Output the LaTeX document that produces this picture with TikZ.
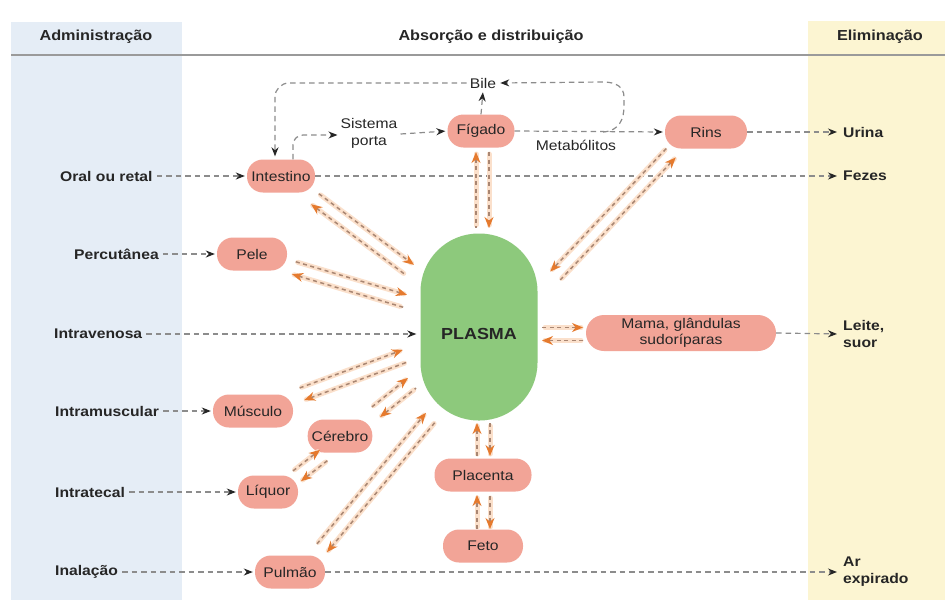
\documentclass[tikz,border=0pt]{standalone}
\usepackage{fontspec}
\setmainfont{Liberation Sans}[FakeStretch=1.12]
\usetikzlibrary{arrows.meta,calc}
\definecolor{bluepanel}{HTML}{E5EDF6}
\definecolor{yellowpanel}{HTML}{FCF5D2}
\definecolor{organpink}{HTML}{F2A497}
\definecolor{plasmagreen}{HTML}{8DC97C}
\definecolor{txt}{HTML}{262626}
\definecolor{dashgray}{HTML}{8C8C8C}
\definecolor{halocol}{HTML}{FBE0CB}
\definecolor{odash}{HTML}{A98672}
\definecolor{otipcol}{HTML}{E57A2E}
\definecolor{rulegray}{HTML}{9A9A9A}
\newcommand\twowayL[2]{%
  \path ($(#1)!6.5pt!90:(#2)$) coordinate (twa) ($(#2)!6.5pt!-90:(#1)$) coordinate (twb)
        ($(#1)!6.5pt!-90:(#2)$) coordinate (twc) ($(#2)!6.5pt!90:(#1)$) coordinate (twd);
  \draw[halo] (twa) -- (twb); \draw[halo] (twc) -- (twd);
  \draw[oline,-{Stealth[length=11pt,width=9pt,color=otipcol]}] (twa) -- (twb);
  \draw[oline,{Stealth[length=11pt,width=9pt,color=otipcol]}-] (twc) -- (twd);}
\newcommand\twowayR[2]{%
  \path ($(#1)!6.5pt!-90:(#2)$) coordinate (twa) ($(#2)!6.5pt!90:(#1)$) coordinate (twb)
        ($(#1)!6.5pt!90:(#2)$) coordinate (twc) ($(#2)!6.5pt!-90:(#1)$) coordinate (twd);
  \draw[halo] (twa) -- (twb); \draw[halo] (twc) -- (twd);
  \draw[oline,-{Stealth[length=11pt,width=9pt,color=otipcol]}] (twa) -- (twb);
  \draw[oline,{Stealth[length=11pt,width=9pt,color=otipcol]}-] (twc) -- (twd);}
\begin{document}
\begin{tikzpicture}[x=1pt,y=-1pt,
  organ/.style={rectangle, rounded corners=16pt, fill=organpink, minimum height=33pt,
    inner xsep=4pt, text=txt, font=\fontsize{14}{15.5}\selectfont, align=center},
  lbl/.style={font=\bfseries\fontsize{14}{17}\selectfont, text=txt, inner sep=4pt, align=left},
  plain/.style={font=\fontsize{14}{17}\selectfont, text=txt, inner sep=3pt, align=center},
  head/.style={font=\bfseries\fontsize{14.5}{17}\selectfont, text=txt},
  blk/.style={draw=dashgray, line width=1.2pt, dash pattern=on 5.5pt off 4pt,
    -{Stealth[length=9pt,width=7pt,color=txt]}, shorten >=2pt},
  halo/.style={draw=halocol, line width=5pt, line cap=round, shorten <=2pt, shorten >=3pt},
  oline/.style={draw=odash, line width=1.5pt, dash pattern=on 4pt off 3.5pt}]
\useasboundingbox (0,0) rectangle (945,600);
\fill[white] (0,0) rectangle (945,600);
\fill[bluepanel] (11,22) rectangle (182,600);
\fill[yellowpanel] (808,21) rectangle (945,600);
\draw[rulegray, line width=2pt] (11,55) -- (945,55);
% headers
\node[head] (hadm) at (96,37) {Administração};
\node[head] (habs) at (491,37) {Absorção e distribuição};
\node[head] (helim) at (880,37) {Eliminação};
% central nodes
\node[fill=plasmagreen, rounded corners=58pt, minimum width=117pt, minimum height=187pt,
  label={[font=\bfseries\fontsize{16}{18}\selectfont, text=txt, yshift=-7pt]center:PLASMA}] (plasma) at (479,327) {};
\node[organ, minimum width=68pt] (intestino) at (281,176) {Intestino};
\node[organ, minimum width=67pt] (figado) at (481,131) {Fígado};
\node[organ, minimum width=82pt] (rins) at (706,132) {Rins};
\node[organ, minimum width=70pt] (pele) at (252,254) {Pele};
\node[organ, minimum width=190pt, minimum height=36pt, rounded corners=18pt] (mama) at (681,333) {Mama, glândulas\\sudoríparas};
\node[organ, minimum width=80pt] (musculo) at (253,411) {Músculo};
\node[organ, minimum width=62pt] (cerebro) at (340,436) {Cérebro};
\node[organ, minimum width=60pt] (liquor) at (268,492) {Líquor};
\node[organ, minimum width=97pt] (placenta) at (483,475) {Placenta};
\node[organ, minimum width=80pt] (feto) at (483,546) {Feto};
\node[organ, minimum width=70pt] (pulmao) at (290,572) {Pulmão};
% texts
\node[plain] (bile) at (483,83) {Bile};
\node[plain] (sistema) at (369,133) {Sistema\\porta};
\node[plain] (metab) at (576,145) {Metabólitos};
% left labels
\node[lbl, anchor=west] (oral) at (56,176) {Oral ou retal};
\node[lbl, anchor=west] (percut) at (70,254) {Percutânea};
\node[lbl, anchor=west] (intrav) at (50,334) {Intravenosa};
\node[lbl, anchor=west] (intram) at (51,411) {Intramuscular};
\node[lbl, anchor=west] (intrat) at (51,492) {Intratecal};
\node[lbl, anchor=west] (inal) at (51,572) {Inalação};
% right labels
\node[lbl, anchor=west] (urina) at (839,132) {Urina};
\node[lbl, anchor=west] (fezes) at (839,176) {Fezes};
\node[lbl, anchor=west] (leite) at (839,334) {Leite,\\suor};
\node[lbl, anchor=west] (ar) at (839,572) {Ar\\expirado};
% black dashed connectors
\draw[blk] (oral.east) -- (intestino.west);
\draw[blk] (intestino.east) -- (fezes.west);
\draw[blk] (rins.east) -- (urina.west);
\draw[blk] (percut.east) -- (pele.west);
\draw[blk, shorten >=4pt] (intrav.east) -- (plasma.west |- intrav.east);
\draw[blk] (mama.east) -- (leite.west);
\draw[blk] (intram.east) -- (musculo.west);
\draw[blk] (intrat.east) -- (liquor.west);
\draw[blk] (inal.east) -- (pulmao.west);
\draw[blk] (pulmao.east) -- (ar.west);
\draw[blk, rounded corners=10pt, shorten >=0pt] ([xshift=12pt]intestino.north) |- ([yshift=-2pt]sistema.west);
\draw[blk] ([yshift=-1pt]sistema.east) -- (figado.west);
\draw[blk, shorten >=1pt] (figado.north) -- (bile.south);
\draw[blk] (figado.east) -- (rins.west);
\coordinate (loopstart) at (603,132);
\draw[blk, shorten >=1pt] (loopstart) .. controls (620,131) and (624,118) .. (624,106) -- (624,97)
  .. controls (624,87) and (616,82) .. (603,82) -- (bile.east);
\draw[blk, rounded corners=14pt, shorten >=3pt] (bile.west) -| ([xshift=-6pt]intestino.north);
% orange two-way connectors
\coordinate (iA) at (315,199); \coordinate (iB) at (410,270);
\coordinate (peA) at (294,268); \coordinate (peB) at (405,301);
\coordinate (rA) at (671,153); \coordinate (rB) at (555,276);
\coordinate (fA) at (482.5,152); \coordinate (fB) at (482.5,228);
\coordinate (mA) at (583,334); \coordinate (mB) at (542,334);
\coordinate (muA) at (302,394); \coordinate (muB) at (405,356);
\coordinate (cA) at (376,412); \coordinate (cB) at (412,383);
\coordinate (puA) at (322,548); \coordinate (puB) at (431,417);
\coordinate (lA) at (297,476); \coordinate (lB) at (324,455);
\coordinate (plA) at (483.5,456); \coordinate (plB) at (483.5,423);
\coordinate (feA) at (483.5,529); \coordinate (feB) at (483.5,495);
\twowayL{iA}{iB}
\twowayL{peA}{peB}
\twowayR{rA}{rB}
\twowayL{fA}{fB}
\twowayL{mA}{mB}
\twowayL{muA}{muB}
\twowayL{cA}{cB}
\twowayL{puA}{puB}
\twowayL{lA}{lB}
\twowayL{plA}{plB}
\twowayL{feA}{feB}
\end{tikzpicture}
\end{document}
